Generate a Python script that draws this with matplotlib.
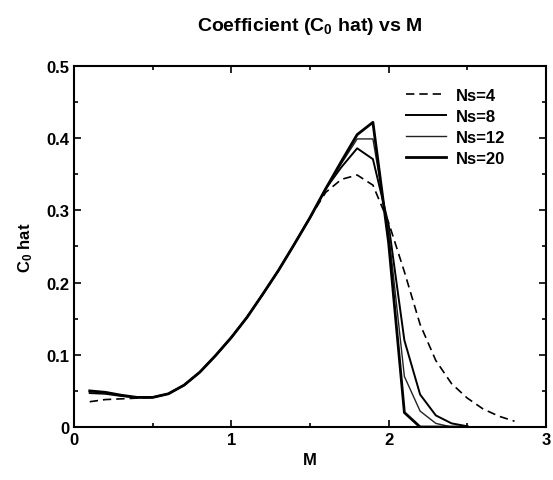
import matplotlib.pyplot as plt
from matplotlib.ticker import MultipleLocator, FuncFormatter

plt.rcParams['font.family'] = 'Liberation Sans'
plt.rcParams['font.weight'] = 'bold'
plt.rcParams['mathtext.fontset'] = 'custom'
plt.rcParams['mathtext.rm'] = 'Liberation Sans:bold'
plt.rcParams['mathtext.it'] = 'Liberation Sans:bold'
plt.rcParams['mathtext.bf'] = 'Liberation Sans:bold'

# values
m_ns4 = [0.1, 0.2, 0.3, 0.4, 0.5, 0.6, 0.7, 0.8, 0.9, 1.0, 1.1, 1.2, 1.3, 1.4, 1.5,
         1.6, 1.7, 1.8, 1.9, 2.0, 2.1, 2.2, 2.3, 2.4, 2.5, 2.6, 2.7, 2.8]
c_ns4 = [0.035, 0.038, 0.039, 0.040, 0.041, 0.046, 0.058, 0.076, 0.099, 0.124, 0.152,
         0.184, 0.217, 0.253, 0.290, 0.325, 0.343, 0.349, 0.335, 0.283, 0.215, 0.142,
         0.092, 0.060, 0.040, 0.025, 0.015, 0.008]

m_ns = [0.1, 0.2, 0.3, 0.4, 0.5, 0.6, 0.7, 0.8, 0.9, 1.0, 1.1, 1.2, 1.3, 1.4, 1.5,
        1.6, 1.7, 1.8, 1.9, 2.0, 2.1, 2.2, 2.3, 2.4, 2.5]
c_ns8 = [0.047, 0.046, 0.043, 0.041, 0.041, 0.046, 0.058, 0.076, 0.099, 0.124, 0.152,
         0.184, 0.217, 0.253, 0.290, 0.330, 0.360, 0.386, 0.371, 0.280, 0.120, 0.045,
         0.016, 0.005, 0.001]
c_ns12 = [0.049, 0.047, 0.044, 0.041, 0.041, 0.046, 0.058, 0.076, 0.099, 0.124, 0.152,
          0.184, 0.217, 0.253, 0.290, 0.330, 0.365, 0.399, 0.399, 0.270, 0.070, 0.022,
          0.005, 0.000, 0.000]
c_ns20 = [0.050, 0.048, 0.044, 0.041, 0.041, 0.046, 0.058, 0.076, 0.099, 0.124, 0.152,
          0.184, 0.217, 0.253, 0.290, 0.330, 0.368, 0.405, 0.422, 0.255, 0.020, 0.000,
          0.000, 0.000, 0.000]

fig = plt.figure(figsize=(5.53, 4.81), dpi=100)
ax = fig.add_axes([0.1338, 0.1102, 0.8535, 0.7505])

ax.plot(m_ns4, c_ns4, 'k--', lw=1.2, dashes=(5, 3), label='Ns=4')
ax.plot(m_ns, c_ns8, 'k-', lw=1.4, label='Ns=8')
ax.plot(m_ns, c_ns12, color='#222222', ls='-', lw=1.0, label='Ns=12')
ax.plot(m_ns, c_ns20, 'k-', lw=2.0, label='Ns=20')

ax.set_xlim(0, 3)
ax.set_ylim(0, 0.5)
ax.xaxis.set_major_locator(MultipleLocator(1))
ax.xaxis.set_minor_locator(MultipleLocator(0.5))
ax.yaxis.set_major_locator(MultipleLocator(0.1))
ax.yaxis.set_minor_locator(MultipleLocator(0.05))
ax.yaxis.set_major_formatter(FuncFormatter(lambda v, p: '0' if abs(v) < 1e-9 else '%.1f' % v))
ax.tick_params(which='both', direction='in', top=True, right=True, labelsize=12, width=1.2)
ax.tick_params(which='major', length=5)
ax.tick_params(which='minor', length=3)
for s in ax.spines.values():
    s.set_linewidth(1.5)

ax.set_xlabel('M', fontsize=12, fontweight='bold', labelpad=4)
ax.set_ylabel('C$_0$ hat', fontsize=12, fontweight='bold', labelpad=8)
ax.set_title('Coefficient (C$_0$ hat) vs M', fontsize=14, fontweight='bold', pad=26)

ax.legend(loc='upper right', bbox_to_anchor=(0.945, 0.98), frameon=False,
          fontsize=12, handlelength=2.4, labelspacing=0.35, handletextpad=0.6)

fig.savefig('out.png', dpi=100)
